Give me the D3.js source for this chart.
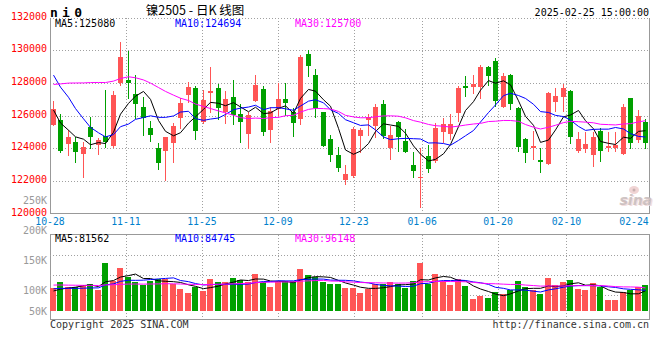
<!DOCTYPE html>
<html><head><meta charset="utf-8">
<script src="https://cdn.jsdelivr.net/npm/d3@7"></script>
<style>body{margin:0;background:#fff}svg{display:block}</style>
</head><body><svg id="c" width="660" height="360"></svg>
<script>
// ---------------- data ----------------
const dates = ["10-28","10-29","10-30","10-31","11-01","11-04","11-05","11-06","11-07","11-08",
"11-11","11-12","11-13","11-14","11-15","11-18","11-19","11-20","11-21","11-22",
"11-25","11-26","11-27","11-28","11-29","12-02","12-03","12-04","12-05","12-06",
"12-09","12-10","12-11","12-12","12-13","12-16","12-17","12-18","12-19","12-20",
"12-23","12-24","12-25","12-26","12-27","12-30","12-31","01-02","01-03",
"01-06","01-07","01-08","01-09","01-10","01-13","01-14","01-15","01-16","01-17",
"01-20","01-21","01-22","01-23","01-24","01-27","02-05","02-06","02-07",
"02-10","02-11","02-12","02-13","02-14","02-17","02-18","02-19","02-20","02-21",
"02-24","02-25"];
const tickLabels = ["10-28","11-11","11-25","12-09","12-23","01-06","01-20","02-10","02-24"];

const open = [125420,125720,124260,124380,123670,125290,124200,124730,124120,127960,
128170,127310,126520,125230,123990,123830,124320,125870,127250,127700,
125620,127390,127700,126230,127150,126070,124850,126880,127620,125110,
126400,127010,126230,125780,129760,128470,126190,124560,123580,122080,
122280,124770,125700,125360,126680,123990,125620,124460,122970,122160,
123520,123240,124970,124850,126170,127800,127760,127760,128980,129350,
126540,128470,126480,124560,123990,123280,123010,126840,127150,127500,
123830,123950,123580,125070,123990,123990,123640,127050,124500,125580];
const high = [126890,126070,125110,124700,124400,125910,124620,127590,127510,130510,
129960,128470,127150,125660,124340,124680,125520,127090,128070,127780,
127560,128980,127920,127500,128170,126680,126230,128470,127820,126540,
128000,127960,126440,129690,130000,128840,126190,124810,124090,122970,
125320,125250,126120,126680,126950,125380,125660,125150,123750,123990,
124200,125520,125820,126090,127800,128410,128470,129080,129040,129490,
128620,128530,126540,124640,125050,123990,127410,127700,127920,127560,
124970,125010,125010,125210,124970,124970,126680,127050,126330,125760];
const low = [125420,123790,123580,123180,122260,124030,123620,124080,124080,127860,
127090,125870,124810,124440,122730,122060,123180,125210,126840,124560,
125560,126230,125780,125520,125480,124400,124030,126880,124810,124400,
126030,126030,124770,125460,128430,125930,124150,123240,122630,121790,
122260,123790,124790,124700,124600,123340,123830,123790,122260,120370,
122520,123180,124360,124560,125660,127210,127350,127090,127860,126600,
126540,126400,123850,123180,123320,122570,123010,126290,126270,124340,
123790,123790,122930,123240,123830,123830,123640,124030,124400,123990];
const close = [126400,123830,124700,123770,124050,124700,124500,124380,127240,129590,
128000,126720,125820,124810,123120,124680,125360,126760,127740,125070,
126950,127500,126480,126990,126030,125620,126030,127860,125010,126290,
127010,126780,125560,129590,129040,126480,124150,123580,122810,122420,
125170,125110,125900,126500,124770,124810,124700,123790,122630,122240,
122710,125210,125480,125480,127700,127660,127920,128980,128430,126880,
128410,126680,124090,123690,124130,123180,127390,127190,127700,124700,
124560,124260,124700,123830,124130,124200,126500,124340,125970,124340];
// volume in thousands of lots
const volume = [94.5,118.8,98.6,95.9,105.3,109.4,85.1,195.8,121.5,175.5,
139,116.1,105.3,121.5,129.6,129.6,108,89.1,74.3,98.6,
82.4,129.6,118.8,118.8,135,125.6,118.8,149.9,116.1,97.2,
116.1,121.5,121.5,170.1,145.8,137.7,116.1,110,109.4,94.5,
94.5,72.9,87.8,108,108,117.5,108,91.8,121.5,195.8,
110.7,149.9,121.5,105.3,129.6,101.3,48.6,60.8,54,78.3,
68.9,85.1,121.5,98.6,85.1,68.9,133.7,105.3,117.5,125.6,
89.1,85.1,113.4,95.9,44.6,44.6,77,85.1,97.2,105.3];
// sessions before the visible window (estimated from where the MA lines start)
const priorClose = [122800,123200,123600,123900,124100,124300,124500,124600,124800,124880,
128500,129800,130600,131300,131800,132200,132400,132000,131500,131500,
131200,130900,130700,130300,129960,127800,126900,125800,124770];
const priorVolume = [110,118,105,120,112,108,115,110,118,109,
112,116,108,114,110,117,112,111,113,113,
102,97,100,96,100,82,76,79,74];
const priceTicks = [120000,122000,124000,126000,128000,130000,132000];
const volTickLabels = ["200K","150K","100K","50K"];
const maLegend = [{name:"MA5",n:5,color:"#000000"},{name:"MA10",n:10,color:"#0000ff"},{name:"MA30",n:30,color:"#ff00ff"}];
const volMA = [81562,84745,96148];
const priceMA = [125080,124694,125700];

// ---------------- layout ----------------
const svg = d3.select("#c");
const RED = "#ff5555", GREEN = "#00a000", GRID = "#a0a0a0", FRAME = "#999999";
const MONO = "'DejaVu Sans Mono', 'Liberation Mono', monospace";
const N = dates.length;
const x = d3.scaleBand().domain(d3.range(N)).range([49.5, 649.5]);
const xg = d3.scaleLinear().domain([0, N - 1]).range([50, 650]);
const yP = d3.scaleLinear().domain([120000, 132000]).range([213.5, 17.5]);
const yV = d3.scaleLinear().domain([0, 100]).range([311, 311 - 24.69]);
const bx = i => Math.round(x(i)) + 1;
const cx = i => bx(i) + 2.5;

function movingAvg(prior, vals, n) {
  const all = prior.concat(vals), off = prior.length;
  return vals.map((v, i) => d3.mean(all.slice(off + i - n + 1, off + i + 1)));
}

const tickIdx = tickLabels.map(t => dates.indexOf(t));

// ---------- price panel grid ----------
const g = svg.append("g");
priceTicks.filter(t => t > 120000).forEach(t => {
  const yy = Math.round(yP(t)) + 0.5;
  g.append("line").attr("x1", 50).attr("x2", 649).attr("y1", yy).attr("y2", yy)
    .attr("stroke", GRID).attr("stroke-dasharray", "1,2");
});
tickIdx.slice(1, -1).forEach(i => {
  const xx = Math.round(xg(i)) + 0.5;
  g.append("line").attr("x1", xx).attr("x2", xx).attr("y1", 18).attr("y2", 213)
    .attr("stroke", GRID).attr("stroke-dasharray", "1,2");
  g.append("line").attr("x1", xx).attr("x2", xx).attr("y1", 235).attr("y2", 322)
    .attr("stroke", GRID).attr("stroke-dasharray", "1,2");
});
// frame lines
const frame = [[50.5,18,50.5,214],[649.5,18,649.5,214],[50,213.5,650,213.5],
               [50.5,234,50.5,320],[649.5,234,649.5,320],[50,234.5,650,234.5],[50,319.5,650,319.5]];
frame.forEach(f => g.append("line").attr("x1", f[0]).attr("y1", f[1]).attr("x2", f[2]).attr("y2", f[3])
  .attr("stroke", FRAME).attr("stroke-width", 1));
// volume grid
[255.5, 275.5, 295.5].forEach(yy => g.append("line").attr("x1", 50).attr("x2", 649).attr("y1", yy).attr("y2", yy)
  .attr("stroke", GRID).attr("stroke-dasharray", "1,2"));

// ---------- sina watermark ----------
const wm = svg.append("g");
wm.append("ellipse").attr("cx", 634).attr("cy", 190).attr("rx", 5).attr("ry", 4).attr("fill", "#f0d4d4");
wm.append("circle").attr("cx", 634).attr("cy", 190).attr("r", 1.5).attr("fill", "#c8b0b0");
wm.append("text").attr("x", 621).attr("y", 206).text("sina")
  .attr("font-family", "'DejaVu Sans', sans-serif").attr("font-style", "italic").attr("font-weight", "bold")
  .attr("font-size", 14).attr("fill", "#f2dede");
wm.append("text").attr("x", 619.5).attr("y", 205).text("sina")
  .attr("font-family", "'DejaVu Sans', sans-serif").attr("font-style", "italic").attr("font-weight", "bold")
  .attr("font-size", 14).attr("fill", "#c4b8b8").attr("opacity", 0.8);

// ---------- candles ----------
const cg = svg.append("g");
d3.range(N).forEach(i => {
  const up = close[i] >= open[i];
  const col = up ? RED : GREEN;
  cg.append("line").attr("x1", cx(i)).attr("x2", cx(i))
    .attr("y1", Math.round(yP(high[i]))).attr("y2", Math.round(yP(low[i])) + 1)
    .attr("stroke", col).attr("stroke-width", 1);
  const yt = Math.round(yP(Math.max(open[i], close[i])));
  const yb = Math.round(yP(Math.min(open[i], close[i])));
  cg.append("rect").attr("x", bx(i)).attr("width", 5).attr("y", yt).attr("height", Math.max(1, yb - yt))
    .attr("fill", col);
});

// ---------- price MAs ----------
maLegend.forEach(m => {
  const ma = movingAvg(priorClose, close, m.n);
  svg.append("path").datum(ma).attr("fill", "none").attr("stroke", m.color).attr("stroke-width", 1)
    .attr("d", d3.line().x((d, i) => cx(i)).y(d => yP(d)));
});

// ---------- volume ----------
const vg = svg.append("g");
d3.range(N).forEach(i => {
  const up = close[i] >= open[i];
  const yt = Math.round(yV(volume[i]));
  vg.append("rect").attr("x", Math.round(x(i))).attr("width", 6).attr("y", yt).attr("height", 311 - yt)
    .attr("fill", up ? RED : GREEN);
});
maLegend.forEach(m => {
  const ma = movingAvg(priorVolume, volume, m.n);
  svg.append("path").datum(ma).attr("fill", "none").attr("stroke", m.color).attr("stroke-width", 1)
    .attr("d", d3.line().x((d, i) => cx(i)).y(d => yV(d)));
});

// ---------- texts ----------
const txt = (xx, yy, s, opts = {}) => svg.append("text").attr("x", xx).attr("y", yy).text(s)
  .attr("font-family", opts.family || MONO).attr("font-size", opts.size || 10)
  .attr("fill", opts.fill || "#000").attr("text-anchor", opts.anchor || "start")
  .attr("font-weight", opts.weight || "normal");

// price axis labels
priceTicks.forEach(t => txt(47, yP(t) + 2, String(t), {fill: "#ff0000", anchor: "end"}));
txt(47, 204, "250K", {fill: "#999999", anchor: "end"});
// volume axis labels
const volLabelPos = {"200K": 234, "150K": 263.6, "100K": 294.3, "50K": 314.6};
volTickLabels.forEach(t => txt(47, volLabelPos[t], t, {fill: "#999999", anchor: "end"}));

// date labels
tickIdx.forEach((i, k) => {
  let xx = xg(i);
  const half = 15;
  if (xx + half > 649) xx = 649 - half;
  txt(xx, 225, tickLabels[k], {fill: "#0080cc", anchor: "middle", size: 9.8});
});

// legends
const legX = [55, 175, 295];
maLegend.forEach((m, k) => {
  txt(legX[k], 27, m.name + ":" + priceMA[k], {fill: m.color});
  txt(legX[k], 242, m.name + ":" + volMA[k], {fill: m.color});
});

// header
svg.append("text").attr("x", 50).attr("y", 16.5).text("n i 0")
  .attr("font-family", MONO).attr("font-weight", "bold").attr("font-size", 13)
  .attr("textLength", 32).attr("fill", "#000");
svg.append("text").attr("x", 195).attr("y", 15).text("镍2505 - 日K 线图")
  .attr("font-family", "'Noto Sans CJK SC', sans-serif").attr("font-size", 12.5)
  .attr("text-anchor", "middle").attr("fill", "#000");
txt(649, 15.6, "2025-02-25 15:00:00", {anchor: "end"});
txt(50, 327.6, "Copyright 2025 SINA.COM", {fill: "#333333"});
txt(649, 327.6, "http://finance.sina.com.cn", {fill: "#333333", anchor: "end"});
</script></body></html>
